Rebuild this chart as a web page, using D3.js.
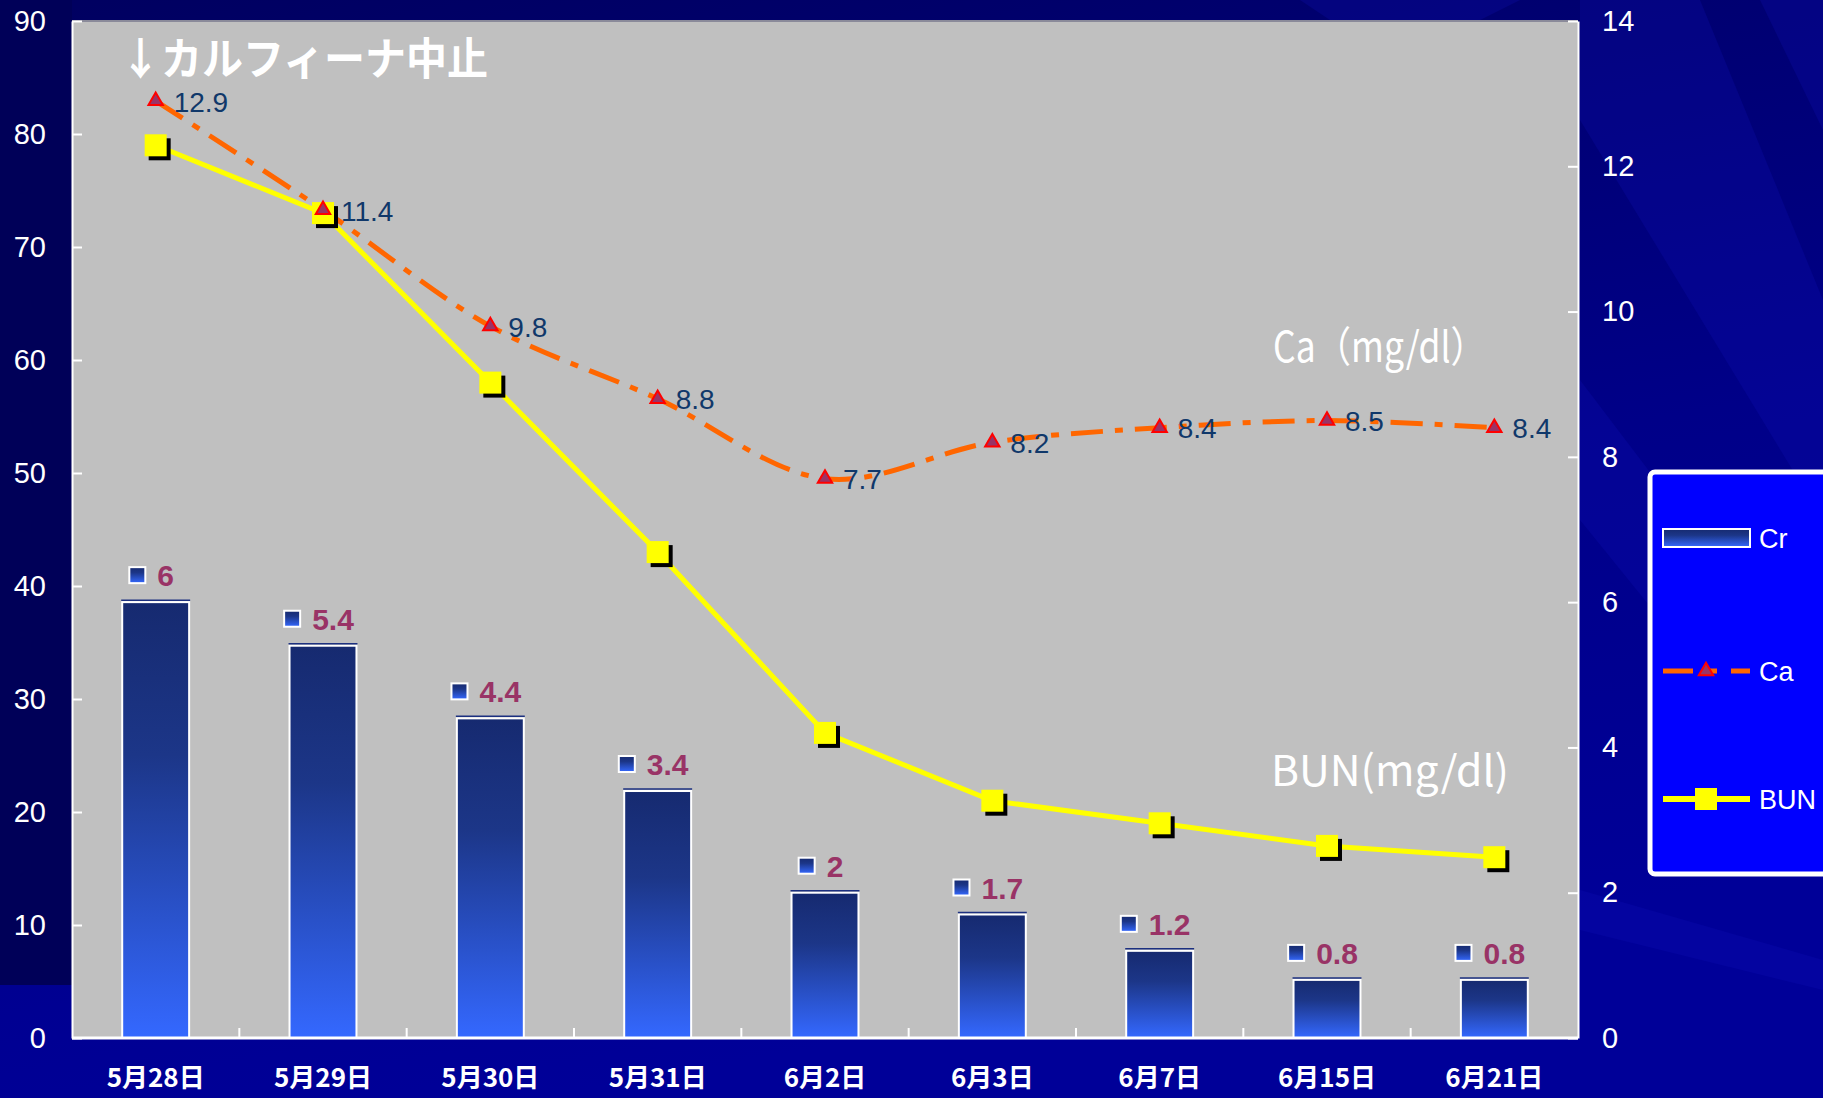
<!DOCTYPE html>
<html><head><meta charset="utf-8">
<script src="https://cdn.jsdelivr.net/npm/d3@7"></script>
<style>html,body{margin:0;padding:0;background:#000080;overflow:hidden}</style>
</head><body>
<svg id="c" width="1823" height="1098"></svg>
<script>
const categories = ["5月28日","5月29日","5月30日","5月31日","6月2日","6月3日","6月7日","6月15日","6月21日"];
const crValues  = [6, 5.4, 4.4, 3.4, 2, 1.7, 1.2, 0.8, 0.8];
const caValues  = [12.9, 11.4, 9.8, 8.8, 7.7, 8.2, 8.4, 8.5, 8.4];
const bunValues = [79, 73, 58, 43, 27, 21, 19, 17, 16];
const leftTicks  = [0,10,20,30,40,50,60,70,80,90];
const rightTicks = [0,2,4,6,8,10,12,14];
const seriesNames = ["Cr","Ca","BUN"];
const annotationText = "↓カルフィーナ中止";
const caTitle = "Ca（mg/dl）";
const bunTitle = "BUN(mg/dl)";

const W = 1823, H = 1098;
const M = {left:72, right:1578, top:21, bottom:1038};
const svg = d3.select("#c");
const defs = svg.append("defs");

// background
const bg = defs.append("linearGradient").attr("id","bg").attr("x1",0).attr("y1",0).attr("x2",0.3).attr("y2",1);
bg.append("stop").attr("offset",0).attr("stop-color","#000060");
bg.append("stop").attr("offset",0.6).attr("stop-color","#000088");
bg.append("stop").attr("offset",1).attr("stop-color","#000098");
svg.append("rect").attr("width",W).attr("height",H).attr("fill","url(#bg)");
// darker left strip
svg.append("rect").attr("x",0).attr("y",0).attr("width",M.left).attr("height",985).attr("fill","#000058");
const streaks = [
  [[1580,0],[1700,0],[1823,300],[1823,520],[1580,120]],
  [[1760,0],[1823,0],[1823,130]],
  [[1580,380],[1823,700],[1823,820],[1580,520]],
  [[1580,890],[1823,960],[1823,990],[1580,930]],
  [[1300,0],[1520,0],[1480,20],[1330,20]]
];
svg.append("g").selectAll("polygon").data(streaks).join("polygon")
  .attr("points",d=>d.map(p=>p.join(",")).join(" "))
  .attr("fill","#1010c0").attr("opacity",0.22);

// gradients
const bg2 = defs.append("linearGradient").attr("id","barg").attr("x1",0).attr("y1",0).attr("x2",0).attr("y2",1);
bg2.append("stop").attr("offset",0).attr("stop-color","#162a70");
bg2.append("stop").attr("offset",0.35).attr("stop-color","#1c3688");
bg2.append("stop").attr("offset",1).attr("stop-color","#3468ff");

// scales
const x = d3.scaleBand().domain(categories).range([M.left,M.right]).paddingInner(0.6).paddingOuter(0.3);
const xc = d => x(d) + x.bandwidth()/2;
const yL = d3.scaleLinear().domain([0,90]).range([M.bottom,M.top]);
const yR = d3.scaleLinear().domain([0,14]).range([M.bottom,M.top]);

// plot area
svg.append("rect").attr("x",M.left).attr("y",M.top).attr("width",M.right-M.left).attr("height",M.bottom-M.top)
  .attr("fill","#c0c0c0");
svg.append("line").attr("x1",M.left).attr("x2",M.right).attr("y1",M.top).attr("y2",M.top).attr("stroke","#8a8a9a").attr("stroke-width",2);

// bars
svg.append("g").selectAll("rect").data(crValues).join("rect")
  .attr("x",(d,i)=>x(categories[i])).attr("width",x.bandwidth())
  .attr("y",d=>yR(d)).attr("height",d=>M.bottom-yR(d))
  .attr("fill","url(#barg)").attr("stroke","#ffffff").attr("stroke-width",2);
svg.append("g").selectAll("line").data(crValues).join("line")
  .attr("x1",(d,i)=>x(categories[i])-1).attr("x2",(d,i)=>x(categories[i])+x.bandwidth()+1)
  .attr("y1",d=>yR(d)-2).attr("y2",d=>yR(d)-2).attr("stroke","#1c3080").attr("stroke-width",1.5);

// axes
const fontNum = "'Liberation Sans', Arial, sans-serif";
const axL = svg.append("g").attr("transform",`translate(${M.left},0)`)
  .call(d3.axisLeft(yL).tickValues(leftTicks).tickSizeInner(-10).tickSizeOuter(0).tickPadding(26));
const axR = svg.append("g").attr("transform",`translate(${M.right},0)`)
  .call(d3.axisRight(yR).tickValues(rightTicks).tickSizeInner(-10).tickSizeOuter(0).tickPadding(24));
[axL,axR].forEach(a=>{
  a.selectAll("path,line").attr("stroke","#ffffff").attr("stroke-width",2);
  a.selectAll("text").attr("fill","#ffffff").style("font-family",fontNum).style("font-size","29px");
});
const axB = svg.append("g").attr("transform",`translate(0,${M.bottom})`)
  .call(d3.axisBottom(x).tickSize(0).tickPadding(31));
axB.select(".domain").remove();
axB.selectAll("text").attr("fill","#ffffff").style("font-family","'Noto Sans CJK JP', sans-serif")
  .style("font-size","26px").style("font-weight","bold");
svg.append("line").attr("x1",M.left).attr("x2",M.right).attr("y1",M.bottom).attr("y2",M.bottom)
  .attr("stroke","#ffffff").attr("stroke-width",3);
svg.append("g").selectAll("line").data(categories.slice(1)).join("line")
  .attr("x1",d=>x(d)-x.step()*0.3).attr("x2",d=>x(d)-x.step()*0.3)
  .attr("y1",M.bottom).attr("y2",M.bottom-10).attr("stroke","#ffffff").attr("stroke-width",2);

// Ca line
const caLine = d3.line().x((d,i)=>xc(categories[i])).y(d=>yR(d)).curve(d3.curveCatmullRom.alpha(0.5));
svg.append("path").datum(caValues).attr("d",caLine).attr("fill","none")
  .attr("stroke","#ff6600").attr("stroke-width",5).attr("stroke-dasharray","32,12,8,12");

// BUN line
const bunLine = d3.line().x((d,i)=>xc(categories[i])).y(d=>yL(d));
svg.append("path").datum(bunValues).attr("d",bunLine).attr("fill","none")
  .attr("stroke","#ffff00").attr("stroke-width",5);
const sq = 22;
svg.append("g").selectAll("rect").data(bunValues).join("rect")
  .attr("x",(d,i)=>xc(categories[i])-sq/2+4).attr("y",d=>yL(d)-sq/2+4)
  .attr("width",sq).attr("height",sq).attr("fill","#000000");
svg.append("g").selectAll("rect").data(bunValues).join("rect")
  .attr("x",(d,i)=>xc(categories[i])-sq/2).attr("y",d=>yL(d)-sq/2)
  .attr("width",sq).attr("height",sq).attr("fill","#ffff00");

// Ca markers
const tri = d3.symbol().type(d3.symbolTriangle).size(90);
svg.append("g").selectAll("path").data(caValues).join("path")
  .attr("transform",(d,i)=>`translate(${xc(categories[i])},${yR(d)})`)
  .attr("d",tri).attr("fill","#993366").attr("stroke","#ff0000").attr("stroke-width",2);
svg.append("g").selectAll("text").data(caValues).join("text")
  .attr("x",(d,i)=>xc(categories[i])+18).attr("y",d=>yR(d)).attr("dy","0.38em")
  .attr("fill","#10386a").style("font-family",fontNum).style("font-size","28px")
  .text(d=>d);

// Cr labels
const key = 16, gap = 12;
const crG = svg.append("g").selectAll("g").data(crValues).join("g");
crG.each(function(d,i){
  const g = d3.select(this);
  const t = g.append("text").text(d).attr("fill","#993366")
    .style("font-family",fontNum).style("font-size","30px").style("font-weight","bold");
  const tw = t.node().getComputedTextLength();
  const total = key + gap + tw;
  const cx = xc(categories[i]) - 4;
  const x0 = cx - total/2;
  const cy = yR(d) - 27;
  g.insert("rect","text").attr("x",x0).attr("y",cy-key/2).attr("width",key).attr("height",key)
    .attr("fill","url(#barg)").attr("stroke","#ffffff").attr("stroke-width",2);
  t.attr("x",x0+key+gap).attr("y",cy+11);
});

// annotations
const fontJP = "'Noto Sans CJK JP', sans-serif";
svg.append("text").attr("x",120).attr("y",75).text(annotationText)
  .attr("fill","#ffffff").style("font-family",fontJP).style("font-size","44px").style("font-weight","bold")
  .attr("textLength",368).attr("lengthAdjust","spacingAndGlyphs");
svg.append("text").attr("x",1273).attr("y",362).text(caTitle)
  .attr("fill","#ffffff").style("font-family",fontJP).style("font-size","42px")
  .attr("textLength",213).attr("lengthAdjust","spacingAndGlyphs");
svg.append("text").attr("x",1271).attr("y",786).text(bunTitle)
  .attr("fill","#ffffff").style("font-family",fontJP).style("font-size","42px")
  .attr("textLength",238).attr("lengthAdjust","spacingAndGlyphs");

// legend
const lg = svg.append("g");
lg.append("rect").attr("x",1650).attr("y",472).attr("width",220).attr("height",402).attr("rx",5)
  .attr("fill","#0000ff").attr("stroke","#ffffff").attr("stroke-width",5);
const ly = [538, 671, 799];
lg.append("rect").attr("x",1663).attr("y",ly[0]-9).attr("width",87).attr("height",18)
  .attr("fill","url(#barg)").attr("stroke","#ffffff").attr("stroke-width",2);
lg.append("line").attr("x1",1663).attr("x2",1750).attr("y1",ly[1]).attr("y2",ly[1])
  .attr("stroke","#ff6600").attr("stroke-width",5).attr("stroke-dasharray","30,14,10,14");
lg.append("path").attr("transform",`translate(1706,${ly[1]})`).attr("d",tri)
  .attr("fill","#993366").attr("stroke","#ff0000").attr("stroke-width",2);
lg.append("line").attr("x1",1663).attr("x2",1750).attr("y1",ly[2]).attr("y2",ly[2])
  .attr("stroke","#ffff00").attr("stroke-width",6);
lg.append("rect").attr("x",1706-sq/2).attr("y",ly[2]-sq/2).attr("width",sq).attr("height",sq).attr("fill","#ffff00");
lg.selectAll("text.lt").data(seriesNames).join("text").attr("class","lt")
  .attr("x",1759).attr("y",(d,i)=>ly[i]).attr("dy","0.36em").text(d=>d)
  .attr("fill","#ffffff").style("font-family",fontNum).style("font-size","27px");
</script>
</body></html>
